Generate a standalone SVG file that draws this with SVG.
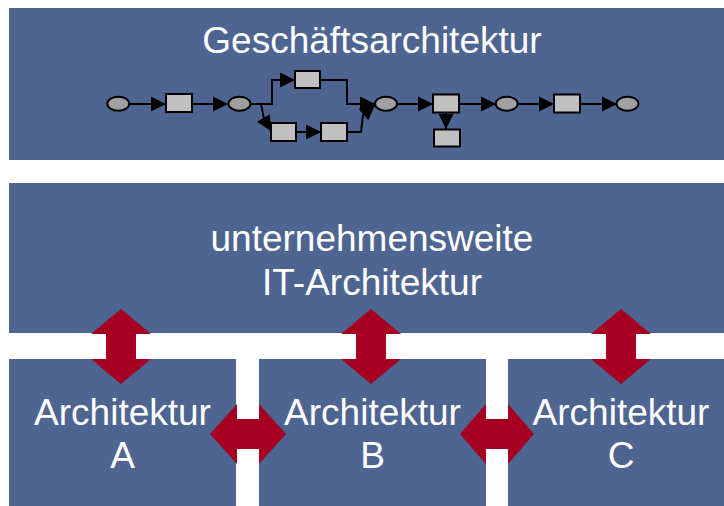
<svg xmlns="http://www.w3.org/2000/svg" width="724" height="506" viewBox="0 0 724 506">
<style>
.box{fill:#4E6491}
.t{font-family:"Liberation Sans",Arial,sans-serif;font-size:37px;fill:#fff;text-anchor:middle}
.dbl{fill:#A50021}
.r{fill:#C0C0C0;stroke:#000;stroke-width:2}
.e{fill:#A0A0A0;stroke:#000;stroke-width:2}
.ln{fill:none;stroke:#000;stroke-width:2}
</style>
<defs>
<marker id="ah" markerWidth="16" markerHeight="16" refX="15" refY="7.5" orient="auto" markerUnits="userSpaceOnUse" overflow="visible">
<path d="M0,0 L15,7.5 L0,15 z" fill="#000"/>
</marker>
</defs>
<rect width="724" height="506" fill="#fff"/>
<g id="geschaeftsarchitektur">
<rect class="box" x="9" y="8" width="725" height="152"/>
<text class="t" x="372" y="53">Geschäftsarchitektur</text>
</g>
<g id="it-architektur">
<rect class="box" x="9" y="183" width="725" height="150"/>
<text class="t" x="372" y="251">unternehmensweite</text>
<text class="t" x="372" y="295">IT-Architektur</text>
</g>
<g id="architektur-a">
<rect class="box" x="9" y="359" width="227" height="150"/>
<text class="t" x="122.5" y="425">Architektur</text>
<text class="t" x="122.5" y="468">A</text>
</g>
<g id="architektur-b">
<rect class="box" x="259" y="359" width="227" height="150"/>
<text class="t" x="372.5" y="425">Architektur</text>
<text class="t" x="372.5" y="468">B</text>
</g>
<g id="architektur-c">
<rect class="box" x="508" y="359" width="226" height="150"/>
<text class="t" x="621" y="425">Architektur</text>
<text class="t" x="621" y="468">C</text>
</g>
<g id="process">
<path class="ln" d="M129,104 H166" marker-end="url(#ah)"/>
<path class="ln" d="M192,104 H228" marker-end="url(#ah)"/>
<path class="ln" d="M250,104 H272 V80 H295" marker-end="url(#ah)"/>
<path class="ln" d="M320,80 H347 V104 H375" marker-end="url(#ah)"/>
<path class="ln" d="M250,104 H261 L264,119 L271,131" marker-end="url(#ah)"/>
<path class="ln" d="M296,132 H321" marker-end="url(#ah)"/>
<path class="ln" d="M347,132 H361 L363,115 L375,105" marker-end="url(#ah)"/>
<path class="ln" d="M397,104 H433" marker-end="url(#ah)"/>
<path class="ln" d="M446,112 V129" marker-end="url(#ah)"/>
<path class="ln" d="M459,104 H496" marker-end="url(#ah)"/>
<path class="ln" d="M517,104 H554" marker-end="url(#ah)"/>
<path class="ln" d="M580,104 H617" marker-end="url(#ah)"/>
<ellipse class="e" cx="118.3" cy="103.7" rx="11" ry="7"/>
<rect class="r" x="166" y="94" width="26" height="18"/>
<ellipse class="e" cx="239.5" cy="103.7" rx="11" ry="7"/>
<rect class="r" x="295" y="71" width="25" height="17"/>
<rect class="r" x="271" y="123" width="25" height="18"/>
<rect class="r" x="321" y="123" width="26" height="18"/>
<ellipse class="e" cx="386" cy="103.7" rx="11" ry="7"/>
<rect class="r" x="433" y="94.5" width="26" height="18"/>
<rect class="r" x="434" y="129.5" width="26" height="17"/>
<ellipse class="e" cx="506.7" cy="103.7" rx="11" ry="7"/>
<rect class="r" x="554" y="94.5" width="26" height="18"/>
<ellipse class="e" cx="627.5" cy="103.7" rx="11" ry="7"/>
</g>
<g id="connectors">
<polygon class="dbl" points="121,309 151,334 136,334 136,359 151,359 121,384 91,359 106,359 106,334 91,334"/>
<polygon class="dbl" points="371,309 401,334 386,334 386,359 401,359 371,384 341,359 356,359 356,334 341,334"/>
<polygon class="dbl" points="621,309 651,334 636,334 636,359 651,359 621,384 591,359 606,359 606,334 591,334"/>
<polygon class="dbl" points="210,434 237,404 237,419 259,419 259,404 286,434 259,464 259,449 237,449 237,464"/>
<polygon class="dbl" points="460,434 486,404 486,419 508,419 508,404 534,434 508,464 508,449 486,449 486,464"/>
</g>
</svg>
